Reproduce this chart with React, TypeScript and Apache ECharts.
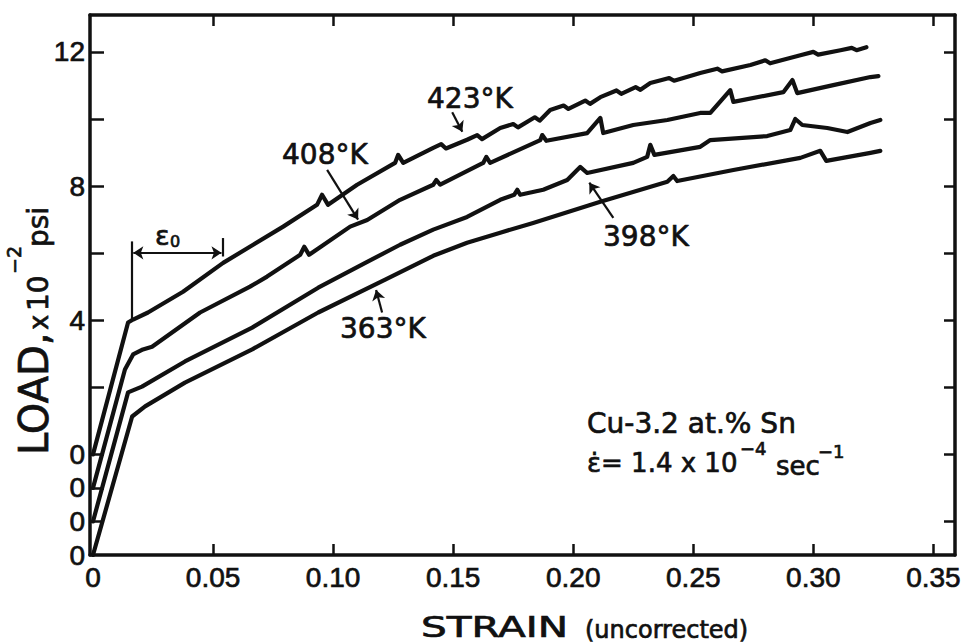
import React, { useEffect, useRef } from "react";
import * as echarts from "echarts";

// Strain axis ticks and offset-zero load labels
const strainLabels = [0, 0.05, 0.1, 0.15, 0.2, 0.25, 0.3, 0.35];
const strainTicks = [0.05, 0.1, 0.15, 0.2, 0.25, 0.3, 0.35];
const loadLabels = [12, 8, 4, 0, -1, -2, -3];
const loadTicksLeft = [12, 10, 8, 6, 4, 2, 0, -1, -2];
const loadTicksRight = [12, 10, 8, 6, 4, 2, 0, -2];

// Each curve is plotted from its own zero, stepped down by one load unit
const temperatures = ["423°K", "408°K", "398°K", "363°K"];
const zeroOffsets = [0, -1, -2, -3];

// [strain, load x10^-2 psi]
const curve423: number[][] = [
  [0, 0], [0.0146, 3.93], [0.0167, 4.02], [0.0229, 4.23], [0.0375, 4.85], [0.0542, 5.71],
  [0.0667, 6.25], [0.0792, 6.79], [0.0933, 7.44], [0.0954, 7.74], [0.0979, 7.44], [0.11, 8.04],
  [0.1258, 8.69], [0.1271, 8.93], [0.1292, 8.69], [0.1417, 9.14], [0.145, 9.25], [0.147, 9.12],
  [0.1558, 9.38], [0.16, 9.52], [0.162, 9.4], [0.1696, 9.73], [0.175, 9.85], [0.177, 9.75],
  [0.184, 10.05], [0.186, 9.95], [0.1904, 10.27], [0.196, 10.4], [0.198, 10.3], [0.205, 10.55],
  [0.207, 10.45], [0.2113, 10.65], [0.218, 10.85], [0.22, 10.75], [0.226, 10.95], [0.228, 10.87],
  [0.2321, 11.07], [0.24, 11.22], [0.242, 11.14], [0.2529, 11.37], [0.26, 11.5], [0.262, 11.42],
  [0.2738, 11.61], [0.28, 11.75], [0.282, 11.66], [0.2946, 11.9], [0.3, 12.0], [0.302, 11.92],
  [0.3113, 12.05], [0.316, 12.12], [0.318, 12.05], [0.3221, 12.14],
];
const curve408: number[][] = [
  [0, 0], [0.0133, 3.53], [0.0167, 3.98], [0.0208, 4.13], [0.0246, 4.21], [0.0446, 5.23],
  [0.0654, 6.0], [0.0725, 6.3], [0.0863, 6.95], [0.088, 7.19], [0.09, 6.95], [0.1071, 7.79],
  [0.1142, 7.99], [0.1279, 8.59], [0.1417, 9.04], [0.143, 9.18], [0.1446, 9.04], [0.1625, 9.69],
  [0.1638, 9.87], [0.1654, 9.69], [0.1863, 10.37], [0.1871, 10.52], [0.1888, 10.35], [0.2058, 10.58],
  [0.2113, 11.03], [0.2125, 10.58], [0.225, 10.82], [0.2392, 10.97], [0.2529, 11.18], [0.2571, 11.18],
  [0.2654, 11.86], [0.2667, 11.51], [0.2875, 11.8], [0.2913, 12.16], [0.2933, 11.77], [0.3083, 12.01],
  [0.3238, 12.25], [0.3271, 12.28],
];
const curve398: number[][] = [
  [0, 0], [0.0146, 3.85], [0.0204, 4.02], [0.0383, 4.77], [0.0663, 5.78], [0.0938, 6.97],
  [0.1142, 7.74], [0.1279, 8.25], [0.1417, 8.7], [0.1558, 9.08], [0.1696, 9.59], [0.1754, 9.74],
  [0.1767, 9.89], [0.1779, 9.74], [0.1875, 9.89], [0.1975, 10.18], [0.2029, 10.57], [0.2058, 10.39],
  [0.225, 10.69], [0.2308, 10.87], [0.2321, 11.23], [0.2338, 10.93], [0.2529, 11.17], [0.2571, 11.37],
  [0.2808, 11.49], [0.2904, 11.67], [0.2925, 12.0], [0.2954, 11.82], [0.3058, 11.73], [0.3142, 11.61],
  [0.3238, 11.88], [0.3279, 11.97],
];
const curve363: number[][] = [
  [0, 0], [0.0163, 4.13], [0.0217, 4.43], [0.0383, 5.14], [0.0663, 6.13], [0.0938, 7.23],
  [0.1217, 8.21], [0.1417, 8.92], [0.1558, 9.31], [0.1696, 9.61], [0.1833, 9.9], [0.2113, 10.53],
  [0.2392, 11.13], [0.2417, 11.3], [0.2433, 11.15], [0.2667, 11.48], [0.2946, 11.84], [0.3029, 12.05],
  [0.3054, 11.75], [0.3238, 11.99], [0.3279, 12.05],
];
const curves = [curve423, curve408, curve398, curve363];

const INK = "#111";
const FONT = "DejaVu Sans";
const TICK_FONT = "Liberation Sans";
const HEAVY = 0.7; // pen weight added to lettering

function plain(text: string, x: number, y: number, size: number, extra: any = {}) {
  return {
    type: "text",
    x,
    y,
    ...extra,
    style: {
      text,
      fill: INK,
      stroke: INK,
      lineWidth: HEAVY,
      fontFamily: FONT,
      fontSize: size,
      align: "left",
      verticalAlign: "middle",
      textAlign: "left",
      textVerticalAlign: "middle",
    },
  };
}

const arrowLine = (from: number[], to: number[], curveness = 0) => [
  { coord: from, symbol: "none" },
  { coord: to, symbol: "arrow", lineStyle: { curveness } },
];

export default function App() {
  const ref = useRef<HTMLDivElement>(null);

  useEffect(() => {
    if (!ref.current) return;
    const chart = echarts.init(ref.current, undefined, { renderer: "svg" });

    const axisLine = { show: true, onZero: false, lineStyle: { color: INK, width: 3.5 } };
    const tickStyle = { color: INK, width: 2.5 };
    const tickLabel = {
      color: INK,
      fontFamily: TICK_FONT,
      fontSize: 28,
      textBorderColor: INK,
      textBorderWidth: HEAVY,
    };

    const markLines: any[][] = [
      // epsilon-zero construction on the top curve
      [
        [{ coord: [0.0163, 6.35], symbol: "none" }, { coord: [0.0163, 4.0], symbol: "none" }],
        [{ coord: [0.0168, 6.01], symbol: "arrow" }, { coord: [0.0535, 6.01], symbol: "arrow" }],
        [{ coord: [0.0542, 5.9], symbol: "none" }, { coord: [0.0542, 6.45], symbol: "none" }],
        arrowLine([0.1496, 10.2], [0.1538, 9.62], 0.3),
      ],
      [arrowLine([0.0975, 8.48], [0.1104, 7.0], -0.25)],
      [arrowLine([0.2167, 7.05], [0.2067, 8.1])],
      [arrowLine([0.1204, 4.23], [0.1179, 4.9])],
    ];

    const series = curves.map((c, i) => ({
      name: temperatures[i],
      type: "line",
      data: c.map(([s, l]) => [s, +(l + zeroOffsets[i]).toFixed(4)]),
      showSymbol: false,
      symbol: "none",
      lineStyle: { color: INK, width: 4.2, join: "round", cap: "round" },
      markLine: {
        silent: true,
        symbolSize: 10,
        label: { show: false },
        lineStyle: { color: INK, width: 2.2, type: "solid" },
        data: markLines[i],
      },
    }));

    const xBase = {
      type: "value",
      min: -0.00125,
      max: 0.359,
      splitLine: { show: false },
      axisLine,
    };
    const yBase = {
      type: "value",
      min: -3,
      max: 13.1,
      splitLine: { show: false },
      axisLine,
    };

    chart.setOption({
      animation: false,
      backgroundColor: "#ffffff",
      grid: { left: 90, right: 18, top: 15, bottom: 88 },
      xAxis: [
        {
          ...xBase,
          position: "bottom",
          axisTick: { show: true, inside: true, length: 11, lineStyle: tickStyle, customValues: strainTicks },
          axisLabel: {
            ...tickLabel,
            customValues: strainLabels,
            formatter: (v: number) => (v === 0 ? "0" : v.toFixed(2)),
            margin: 8,
          },
        },
        {
          ...xBase,
          position: "top",
          axisTick: { show: true, inside: true, length: 11, lineStyle: tickStyle, customValues: strainTicks },
          axisLabel: { show: false },
        },
      ],
      yAxis: [
        {
          ...yBase,
          position: "left",
          axisTick: { show: true, inside: true, length: 14, lineStyle: tickStyle, customValues: loadTicksLeft },
          axisLabel: {
            ...tickLabel,
            customValues: loadLabels,
            formatter: (v: number) => (v > 0 ? String(v) : "0"),
            margin: 5,
          },
        },
        {
          ...yBase,
          position: "right",
          axisTick: { show: true, inside: true, length: 11, lineStyle: tickStyle, customValues: loadTicksRight },
          axisLabel: { show: false },
        },
      ],
      series,
      graphic: [
        plain(temperatures[0], 427, 98, 28),
        plain(temperatures[1], 282, 154, 28),
        plain(temperatures[2], 603, 236, 28),
        plain(temperatures[3], 340, 328, 28),
        // epsilon-zero
        plain("ε", 155, 235, 27),
        plain("0", 170, 241, 16),
        // alloy and strain rate
        plain("Cu-3.2 at.% Sn", 587, 423, 28),
        plain("ε̇= 1.4 x 10", 587, 463, 26),
        plain("−4", 740, 448, 18),
        plain("sec", 776, 466, 26),
        plain("−1", 818, 451, 18),
        // strain axis title
        plain("STRAIN", 421, 627, 29, { scaleX: 1.4 }),
        plain("(uncorrected)", 585, 630, 24),
        // load axis title, read bottom to top
        {
          type: "group",
          x: 48,
          y: 455,
          rotation: Math.PI / 2,
          children: [
            plain("LOAD,", 0, -14, 40),
            plain("x", 125, -9, 26),
            plain("10", 144, -10, 28),
            plain("−2", 181, -34, 19),
            plain("psi", 208, -10, 28),
          ],
        },
      ],
    });

    return () => chart.dispose();
  }, []);

  return (
    <div
      ref={ref}
      style={{ position: "fixed", left: 0, top: 0, width: 973, height: 643, background: "#fff" }}
    />
  );
}
